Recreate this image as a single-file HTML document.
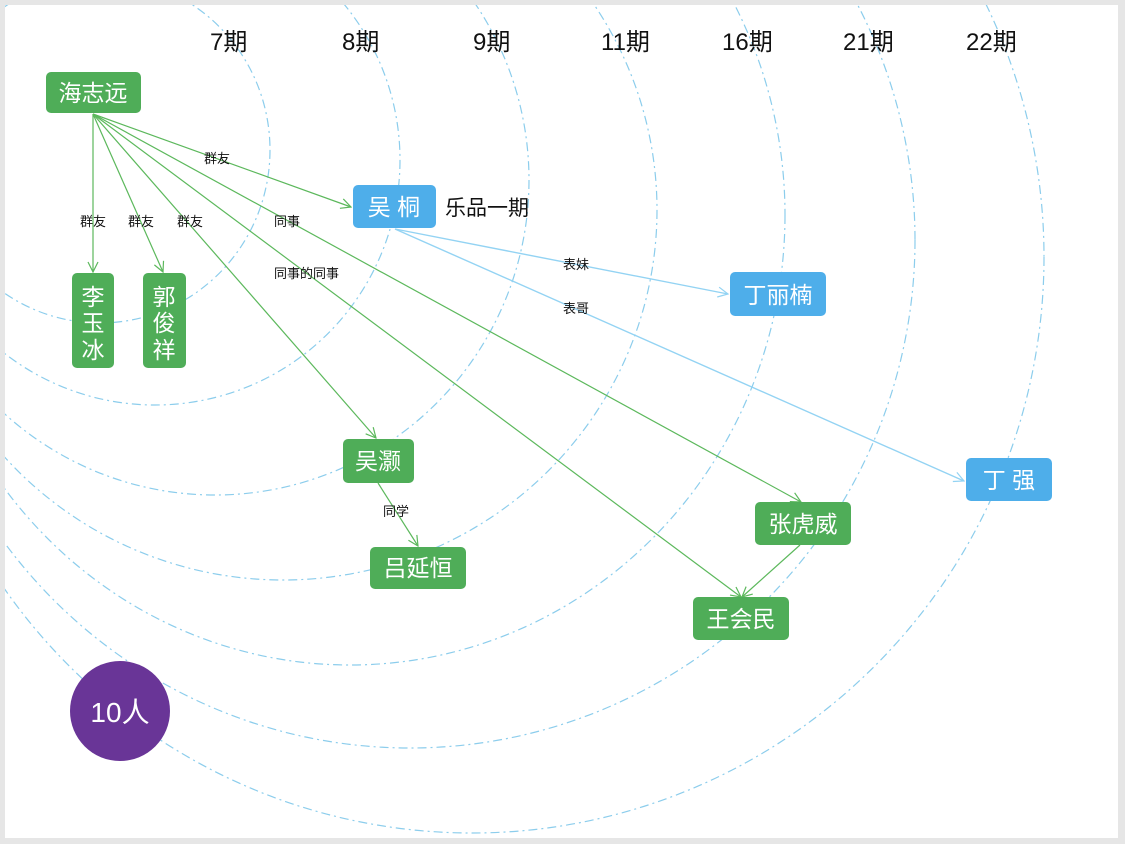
<!DOCTYPE html>
<html><head><meta charset="utf-8"><style>
html,body{margin:0;padding:0;background:#e6e6e6;}
svg{display:block;}
text{font-family:"Liberation Sans","Noto Sans CJK SC",sans-serif;}
</style></head><body>
<svg width="1125" height="844" viewBox="0 0 1125 844" xmlns="http://www.w3.org/2000/svg">
<defs>
<clipPath id="pg"><rect x="5" y="5" width="1113" height="833"/></clipPath>
<marker id="ag" viewBox="0 0 12 12" refX="11" refY="6" markerWidth="12" markerHeight="12" markerUnits="userSpaceOnUse" orient="auto"><path d="M1,1 L11,6 L1,11" fill="none" stroke="#5cb85c" stroke-width="1.2"/></marker>
<marker id="ab" viewBox="0 0 12 12" refX="11" refY="6" markerWidth="12" markerHeight="12" markerUnits="userSpaceOnUse" orient="auto"><path d="M1,1 L11,6 L1,11" fill="none" stroke="#93d3f3" stroke-width="1.2"/></marker>
</defs>
<rect x="5" y="5" width="1113" height="833" fill="#fff"/>
<g clip-path="url(#pg)" fill="none" stroke="#8ccdec" stroke-width="1.2" stroke-dasharray="9 4 2 4">
<ellipse cx="100" cy="150" rx="170" ry="173"/>
<ellipse cx="155" cy="160" rx="245" ry="245"/>
<ellipse cx="215" cy="180" rx="314" ry="315"/>
<ellipse cx="283" cy="210" rx="374" ry="370"/>
<ellipse cx="350" cy="215" rx="435" ry="450"/>
<ellipse cx="410" cy="240" rx="505" ry="508"/>
<ellipse cx="472" cy="257" rx="572" ry="576"/>
</g>
<g font-size="24" fill="#111">
<text x="210" y="50">7期</text>
<text x="342" y="50">8期</text>
<text x="473" y="50">9期</text>
<text x="601" y="50">11期</text>
<text x="722" y="50">16期</text>
<text x="843" y="50">21期</text>
<text x="966" y="50">22期</text>
</g>
<g stroke="#5cb85c" stroke-width="1.2" fill="none" marker-end="url(#ag)">
<line x1="93" y1="114" x2="93" y2="272"/>
<line x1="93" y1="114" x2="163" y2="272"/>
<line x1="93" y1="114" x2="376" y2="438"/>
<line x1="93" y1="114" x2="351" y2="207"/>
<line x1="93" y1="114" x2="801" y2="502"/>
<line x1="93" y1="114" x2="741" y2="597"/>
<line x1="378" y1="483" x2="418" y2="546"/>
<line x1="800" y1="545" x2="742" y2="597"/>
</g>
<g stroke="#93d3f3" stroke-width="1.4" fill="none" marker-end="url(#ab)">
<line x1="395" y1="229" x2="728" y2="294"/>
<line x1="395" y1="229" x2="964" y2="481"/>
</g>
<g font-size="13" fill="#111">
<text x="80" y="226">群友</text>
<text x="128" y="226">群友</text>
<text x="177" y="226">群友</text>
<text x="204" y="163">群友</text>
<text x="274" y="226">同事</text>
<text x="274" y="278">同事的同事</text>
<text x="383" y="516">同学</text>
<text x="563" y="269">表妹</text>
<text x="563" y="313">表哥</text>
</g>
<g fill="#4fad58">
<rect x="46" y="72" width="95" height="41" rx="5"/>
<rect x="72" y="273" width="42" height="95" rx="5"/>
<rect x="143" y="273" width="43" height="95" rx="5"/>
<rect x="343" y="439" width="71" height="44" rx="5"/>
<rect x="370" y="547" width="96" height="42" rx="5"/>
<rect x="755" y="502" width="96" height="43" rx="5"/>
<rect x="693" y="597" width="96" height="43" rx="5"/>
</g>
<g fill="#4eaeea">
<rect x="353" y="185" width="83" height="43" rx="5"/>
<rect x="730" y="272" width="96" height="44" rx="5"/>
<rect x="966" y="458" width="86" height="43" rx="5"/>
</g>
<g font-size="23" fill="#fff" text-anchor="middle">
<text x="93" y="101">海志远</text>
<text x="93" y="305">李</text><text x="93" y="331">玉</text><text x="93" y="358">冰</text>
<text x="164" y="305">郭</text><text x="164" y="331">俊</text><text x="164" y="358">祥</text>
<text x="378" y="469">吴灏</text>
<text x="418" y="576">吕延恒</text>
<text x="803" y="532">张虎威</text>
<text x="741" y="627">王会民</text>
<text x="394" y="215">吴 桐</text>
<text x="778" y="303">丁丽楠</text>
<text x="1009" y="488">丁  强</text>
</g>
<text x="445" y="215" font-size="21" fill="#111">乐品一期</text>
<circle cx="120" cy="711" r="50" fill="#693597"/>
<text x="120" y="722" font-size="28" fill="#fff" text-anchor="middle">10人</text>
</svg>
</body></html>
